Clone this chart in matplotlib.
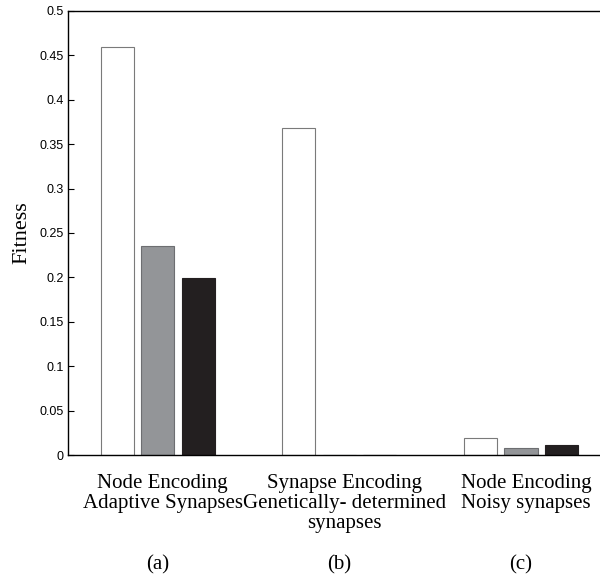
import numpy as np
import matplotlib
matplotlib.use("Agg")
import matplotlib.pyplot as plt
import matplotlib.transforms as mtransforms

# valores
grupos = ["Node Encoding\nAdaptive Synapses",
          "Synapse Encoding\nGenetically- determined\nsynapses",
          "Node Encoding\nNoisy synapses"]
letras = ["(a)", "(b)", "(c)"]
serie_blanca = [0.459, 0.368, 0.019]
serie_gris = [0.235, 0.0005, 0.0082]
serie_negra = [0.199, 0.0005, 0.0113]

def generar_grafico():
    fig = plt.figure(figsize=(6, 5.76), dpi=100)
    ax = fig.add_axes([0.1133, 0.21, 0.8867, 0.771])

    x = np.arange(1, len(grupos) + 1)
    ancho = 0.182
    paso = 0.223
    ax.bar(x - paso, serie_blanca, ancho, color="white", edgecolor="#7a7a7a", linewidth=0.8)
    ax.bar(x, serie_gris, ancho, color="#939598", edgecolor="#6d6e71", linewidth=0.8)
    ax.bar(x + paso, serie_negra, ancho, color="#231f20", edgecolor="#231f20", linewidth=0.8)

    ax.set_xlim(0.506, 3.435)
    ax.set_ylim(0, 0.5)
    ax.set_yticks(np.arange(0, 0.501, 0.05))
    ax.set_yticklabels(["0", "0.05", "0.1", "0.15", "0.2", "0.25", "0.3",
                        "0.35", "0.4", "0.45", "0.5"],
                       family="Liberation Sans", fontsize=9)
    ax.tick_params(axis="y", direction="in", length=4, width=0.8, pad=3)

    ax.set_xticks(x)
    ax.set_xticklabels(grupos, family="Liberation Serif", fontsize=15,
                       linespacing=1.05)
    ax.tick_params(axis="x", length=0, pad=14)
    # las etiquetas estan algo corridas a la derecha en el original
    desplaz = mtransforms.ScaledTranslation(5 / 100, 0, fig.dpi_scale_trans)
    for lab in ax.get_xticklabels():
        lab.set_transform(lab.get_transform() + desplaz)

    # etiquetas (a), (b), (c) debajo de cada grupo
    for i, l in enumerate(letras):
        ax.text(x[i], -0.124, l, ha="center", va="center",
                family="Liberation Serif", fontsize=15, clip_on=False)

    ax.set_ylabel("Fitness", family="Liberation Serif", fontsize=16, labelpad=6)

    for s in ["left", "bottom", "top"]:
        ax.spines[s].set_linewidth(1.0)
    ax.spines["right"].set_visible(False)

    fig.savefig("out.png", dpi=100)
    plt.close(fig)

if __name__ == "__main__":
    generar_grafico()
